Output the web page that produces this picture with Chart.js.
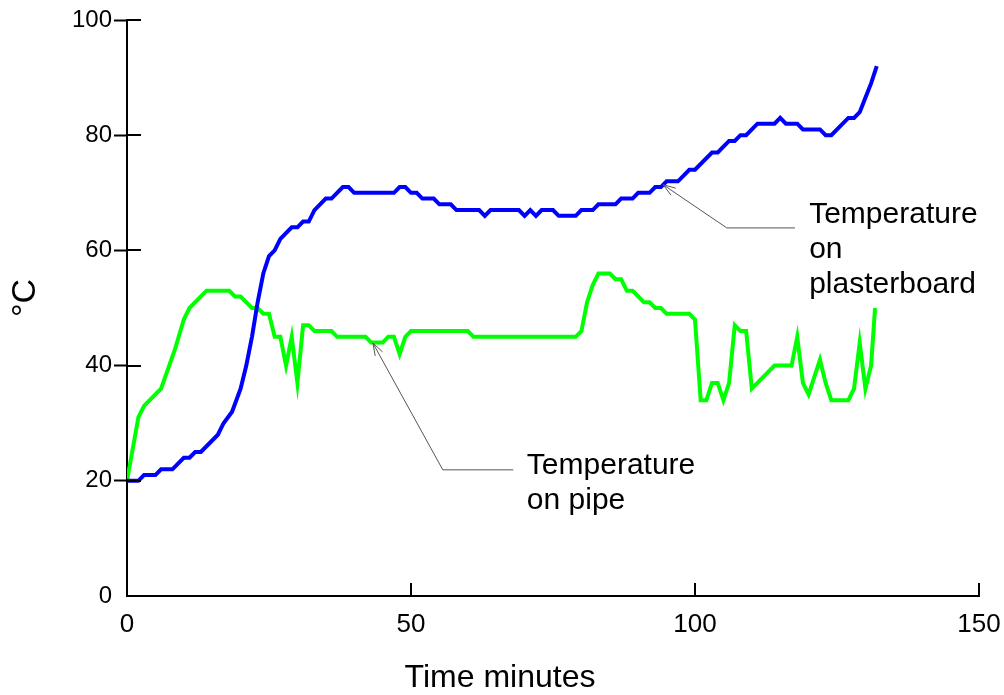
<!DOCTYPE html>
<html>
<head>
<meta charset="utf-8">
<script src="https://cdn.jsdelivr.net/npm/chart.js@4.4.0/dist/chart.umd.min.js"></script>
<style>
  html, body { margin: 0; padding: 0; background: #fff; }
  #wrap { width: 1004px; height: 695px; }
</style>
</head>
<body>
<div id="wrap"><canvas id="chart" width="1004" height="695"></canvas></div>
<script>
// temperature on plasterboard (blue)
const plasterTime = [0, 2, 3, 5, 6, 8, 10, 11, 12, 13, 15, 16, 17, 18.5, 20, 21, 22, 23, 24, 25, 26, 27, 29, 30, 31, 32, 33, 35, 36, 38, 39, 40, 47, 48, 49, 50, 51, 52, 54, 55, 57, 58, 62, 63, 64, 69, 70, 71, 72, 73, 75, 76, 79, 80, 82, 83, 86, 87, 89, 90, 92, 93, 94, 95, 97, 99, 100, 103, 104, 106, 107, 108, 109, 111, 114, 115, 116, 118, 119, 122, 123, 124, 127, 128, 129, 130, 131, 132];
const plasterTemp = [20, 20, 21, 21, 22, 22, 24, 24, 25, 25, 27, 28, 30, 32, 36, 40, 45, 51, 56, 59, 60, 62, 64, 64, 65, 65, 67, 69, 69, 71, 71, 70, 70, 71, 71, 70, 70, 69, 69, 68, 68, 67, 67, 66, 67, 67, 66, 67, 66, 67, 67, 66, 66, 67, 67, 68, 68, 69, 69, 70, 70, 71, 71, 72, 72, 74, 74, 77, 77, 79, 79, 80, 80, 82, 82, 83, 82, 82, 81, 81, 80, 80, 83, 83, 84, 86.5, 89, 92];

// temperature on pipe (green)
const pipeTime = [0, 2, 3, 6, 8.5, 10, 11, 14, 18, 19, 20, 22, 23, 24, 25, 26, 27, 28, 29, 30, 31, 32, 33, 36, 37, 42, 43, 45, 46, 47, 48, 49, 50, 60, 61, 79, 80, 81, 82, 83, 85, 86, 87, 88, 89, 91, 92, 93, 94, 95, 99, 100, 101, 102, 103, 104, 105, 106, 107, 108, 109, 110, 114, 117, 118, 119, 120, 122, 123, 124, 127, 128, 129, 130, 131, 131.7];
const pipeTemp = [20, 31, 33, 36, 43, 48, 50, 53, 53, 52, 52, 50, 50, 49, 49, 45, 45, 40, 45, 37, 47, 47, 46, 46, 45, 45, 44, 44, 45, 45, 42, 45, 46, 46, 45, 45, 46, 51, 54, 56, 56, 55, 55, 53, 53, 51, 51, 50, 50, 49, 49, 48, 34, 34, 37, 37, 34, 37, 47, 46, 46, 36, 40, 40, 45, 37, 35, 41, 37, 34, 34, 36, 44, 36, 40, 50];

const xTickValues = [0, 50, 100, 150];
const yTickValues = [0, 20, 40, 60, 80, 100];

const FONT = 'Liberation Sans, Arial, sans-serif';

function toPoints(xs, ys) {
    return xs.map((x, i) => ({ x: x, y: ys[i] }));
}

// inward tick marks, axis titles and the pointer labels
const extrasPlugin = {
    id: 'extras',
    afterDraw(chart) {
        const ctx = chart.ctx;
        const xs = chart.scales.x;
        const ys = chart.scales.y;
        const area = chart.chartArea;

        ctx.save();
        ctx.strokeStyle = '#000';
        ctx.lineWidth = 2;
        xTickValues.forEach(v => {
            if (v === 0) return;
            const px = Math.round(xs.getPixelForValue(v));
            ctx.beginPath();
            ctx.moveTo(px, area.bottom);
            ctx.lineTo(px, area.bottom - 13);
            ctx.stroke();
        });
        yTickValues.forEach(v => {
            if (v === 0) return;
            const py = Math.round(ys.getPixelForValue(v));
            ctx.beginPath();
            ctx.moveTo(area.left, py);
            ctx.lineTo(area.left + 14, py);
            ctx.stroke();
        });

        // axis titles (sit off-centre in the original)
        ctx.fillStyle = '#000';
        ctx.textAlign = 'center';
        ctx.textBaseline = 'middle';
        ctx.font = '32px ' + FONT;
        ctx.fillText('Time minutes', 500, 678);
        ctx.save();
        ctx.translate(26, 298);
        ctx.rotate(-Math.PI / 2);
        ctx.font = '34px ' + FONT;
        ctx.fillText('°C', 0, 0);
        ctx.restore();

        // pointer lines
        const notes = [
            { lines: ['Temperature', 'on', 'plasterboard'], tip: [94.4, 71.4], elbow: [105.6, 63.9], end: [117.6, 63.9], textX: 120.1, textY: 66.2 },
            { lines: ['Temperature', 'on pipe'], tip: [43.3, 43.9], elbow: [55.6, 21.9], end: [68, 21.9], textX: 70.4, textY: 22.6 }
        ];
        notes.forEach(n => {
            const tx = xs.getPixelForValue(n.tip[0]), ty = ys.getPixelForValue(n.tip[1]);
            const ex = xs.getPixelForValue(n.elbow[0]), ey = ys.getPixelForValue(n.elbow[1]);
            const fx = xs.getPixelForValue(n.end[0]), fy = ys.getPixelForValue(n.end[1]);
            ctx.strokeStyle = '#555';
            ctx.lineWidth = 1;
            ctx.beginPath();
            ctx.moveTo(tx, ty);
            ctx.lineTo(ex, ey);
            ctx.lineTo(fx, fy);
            ctx.stroke();
            // open arrow head
            const ang = Math.atan2(ey - ty, ex - tx);
            const len = 13, spread = 0.33;
            ctx.beginPath();
            ctx.moveTo(tx + len * Math.cos(ang - spread), ty + len * Math.sin(ang - spread));
            ctx.lineTo(tx, ty);
            ctx.lineTo(tx + len * Math.cos(ang + spread), ty + len * Math.sin(ang + spread));
            ctx.stroke();

            ctx.fillStyle = '#000';
            ctx.font = '30px ' + FONT;
            ctx.textAlign = 'left';
            ctx.textBaseline = 'middle';
            const lx = xs.getPixelForValue(n.textX);
            let ly = ys.getPixelForValue(n.textY);
            n.lines.forEach(t => {
                ctx.fillText(t, lx, ly);
                ly += 35;
            });
        });
        ctx.restore();
    }
};

const ctx = document.getElementById('chart').getContext('2d');
const chart = new Chart(ctx, {
    type: 'line',
    data: {
        datasets: [
            {
                label: 'Temperature on plasterboard',
                data: toPoints(plasterTime, plasterTemp),
                borderColor: '#0000ff',
                borderWidth: 4,
                pointRadius: 0,
                tension: 0,
                fill: false
            },
            {
                label: 'Temperature on pipe',
                data: toPoints(pipeTime, pipeTemp),
                borderColor: '#00ff00',
                borderWidth: 4,
                pointRadius: 0,
                tension: 0,
                fill: false
            }
        ]
    },
    options: {
        responsive: false,
        animation: false,
        devicePixelRatio: 1,
        layout: { padding: { left: 0, right: 25, top: 20, bottom: 0 } },
        plugins: {
            legend: { display: false },
            tooltip: { enabled: false }
        },
        scales: {
            x: {
                type: 'linear',
                min: 0,
                max: 150,
                afterBuildTicks: s => { s.ticks = xTickValues.map(v => ({ value: v })); },
                afterFit: s => { s.height = 99; s.paddingLeft = 0; s.paddingRight = 0; },
                border: { display: true, color: '#000', width: 2 },
                grid: { display: true, drawOnChartArea: false, drawTicks: false },
                ticks: { color: '#000', font: { family: FONT, size: 26 }, padding: 13, maxRotation: 0 },
                title: { display: false }
            },
            y: {
                type: 'linear',
                min: 0,
                max: 100,
                afterBuildTicks: s => { s.ticks = yTickValues.map(v => ({ value: v })); },
                afterFit: s => { s.width = 127; s.paddingTop = 0; s.paddingBottom = 0; },
                border: { display: true, color: '#000', width: 2 },
                grid: {
                    display: true,
                    drawOnChartArea: false,
                    drawTicks: true,
                    tickLength: 13,
                    tickWidth: 2,
                    tickColor: c => (c.tick && c.tick.value === 0) ? 'rgba(0,0,0,0)' : '#000'
                },
                ticks: { color: '#000', font: { family: FONT, size: 24 }, padding: 2 },
                title: { display: false }
            }
        }
    },
    plugins: [extrasPlugin]
});
</script>
</body>
</html>
